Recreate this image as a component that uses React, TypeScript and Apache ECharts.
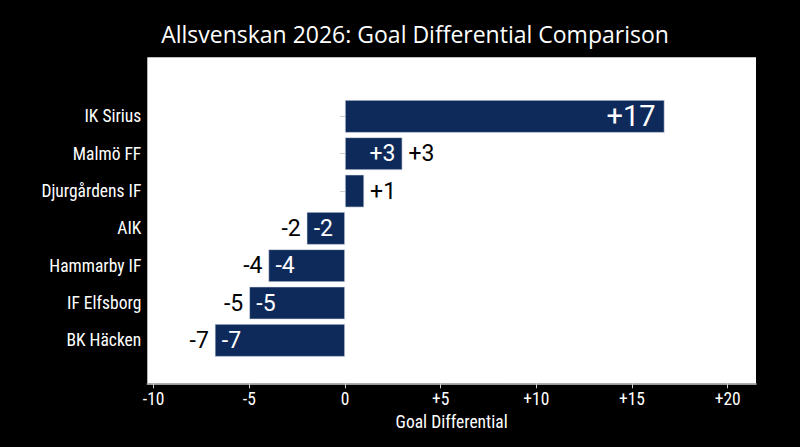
import React, { useEffect, useRef } from 'react';
import * as echarts from 'echarts';

const teams = ['IK Sirius', 'Malmö FF', 'Djurgårdens IF', 'AIK', 'Hammarby IF', 'IF Elfsborg', 'BK Häcken'];
const goalDiff = [16.7, 3, 1, -2, -4, -5, -6.8];
// which bars carry a label inside / beside the bar
const insideShown = [true, true, false, true, true, true, true];
const outsideShown = [false, true, true, true, true, true, true];
const xTicks = [-10, -5, 0, 5, 10, 15, 20];

const condensed = "'Roboto Condensed', 'Liberation Sans Narrow', 'DejaVu Sans Condensed', Roboto, sans-serif";
const signed = (v: number) => (v > 0 ? '+' + v : String(v));

const App: React.FC = () => {
  const chartRef = useRef<HTMLDivElement>(null);

  useEffect(() => {
    document.body.style.margin = '0';
    document.body.style.background = '#000';
    if (!chartRef.current) return;
    const chart = echarts.init(chartRef.current, null, { renderer: 'svg' });

    const insideData = goalDiff.map((v, i) => ({
      value: v,
      label: {
        show: insideShown[i],
        position: v >= 0 ? 'insideRight' : 'insideLeft',
        fontSize: i === 0 ? 29 : 23,
        distance: i === 0 ? 9 : 7,
      },
    }));
    const outsideData = goalDiff.map((v, i) => ({
      value: v,
      label: {
        show: outsideShown[i],
        position: v >= 0 ? 'right' : 'left',
      },
    }));

    const options: echarts.EChartsOption = {
      animation: false,
      backgroundColor: '#000',
      title: {
        text: 'Allsvenskan 2026: Goal Differential Comparison',
        left: 410,
        top: 17,
        textAlign: 'center',
        textStyle: { color: '#fff', fontSize: 23, fontWeight: 'normal', fontFamily: "'Open Sans', sans-serif" },
      },
      graphic: [
        {
          type: 'rect',
          z: -10,
          silent: true,
          shape: { x: 147.3, y: 57.3, width: 608.7, height: 326 },
          style: { fill: '#fff' },
        },
      ],
      grid: { left: 147.3, right: 44, top: 97.7, bottom: 88 },
      xAxis: {
        type: 'value',
        min: -10.33,
        max: 21.48,
        offset: 24.3,
        name: 'Goal Differential',
        nameLocation: 'middle',
        nameGap: 28,
        nameTextStyle: { color: '#fff', fontSize: 17.5, fontFamily: condensed },
        splitLine: { show: false },
        axisLine: { show: true, lineStyle: { color: '#cfcfcf', width: 1.5 } },
        axisTick: { show: true, length: 5, lineStyle: { color: '#cfcfcf' }, customValues: xTicks },
        axisLabel: {
          color: '#fff',
          fontSize: 17.5,
          margin: 7,
          fontFamily: condensed,
          customValues: xTicks,
          formatter: (v: number) => signed(v),
        },
      },
      yAxis: {
        type: 'category',
        data: teams,
        inverse: true,
        axisLine: { show: false },
        axisTick: { show: true, length: 5, alignWithLabel: true, lineStyle: { color: '#cfcfcf' } },
        axisLabel: { color: '#fff', fontSize: 17.5, margin: 6, fontFamily: condensed },
      },
      series: [
        {
          type: 'bar',
          data: insideData,
          barWidth: 32.7,
          itemStyle: { color: '#0e2a5a', borderColor: '#dde3ec', borderWidth: 0.6 },
          label: {
            color: '#fff',
            fontFamily: 'Roboto, sans-serif',
            formatter: (p: any) => signed(Math.round(p.value)),
          },
          z: 2,
        },
        {
          type: 'bar',
          data: outsideData,
          barWidth: 32.7,
          barGap: '-100%',
          itemStyle: { color: 'rgba(0,0,0,0)' },
          label: {
            color: '#000',
            fontSize: 23,
            distance: 6,
            fontFamily: 'Roboto, sans-serif',
            formatter: (p: any) => signed(Math.round(p.value)),
          },
          z: 3,
        },
      ],
    };

    chart.setOption(options);
    return () => {
      chart.dispose();
    };
  }, []);

  return <div ref={chartRef} style={{ width: 800, height: 447 }} />;
};

export default App;
